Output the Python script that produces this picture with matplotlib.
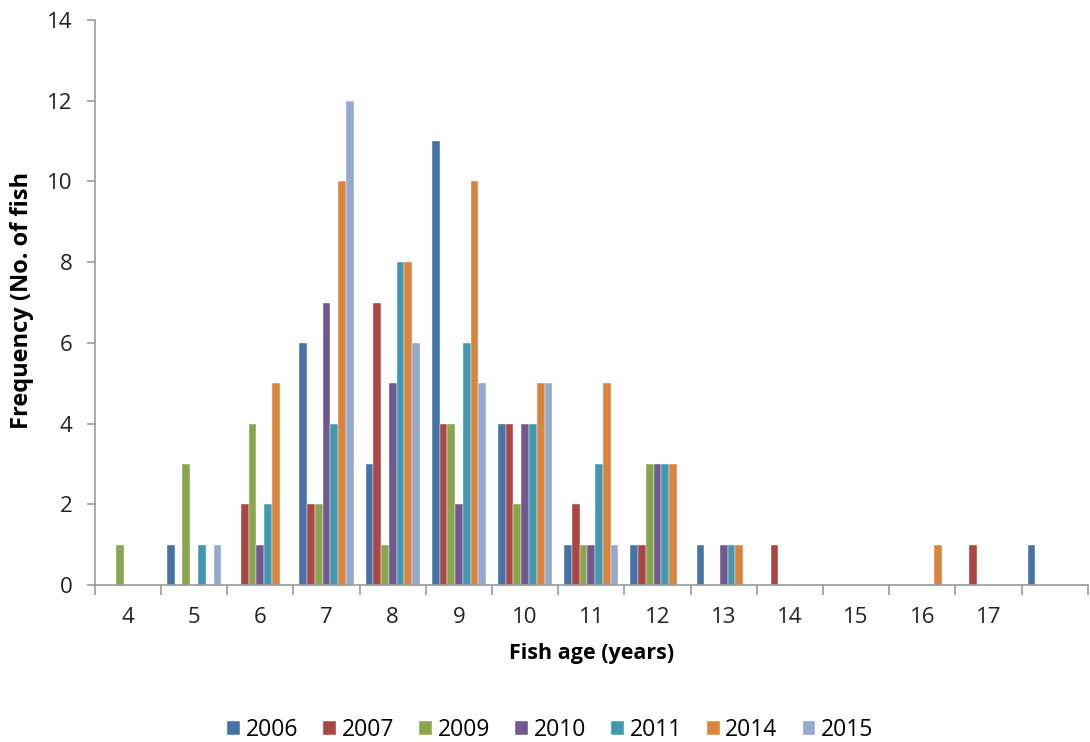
import matplotlib.pyplot as plt
import numpy as np

ages = ['4', '5', '6', '7', '8', '9', '10', '11', '12', '13', '14', '15', '16', '17', '']
years = ['2006', '2007', '2009', '2010', '2011', '2014', '2015']

f2006 = [0, 1, 0, 6, 3, 11, 4, 1, 1, 1, 0, 0, 0, 0, 1]
f2007 = [0, 0, 2, 2, 7, 4, 4, 2, 1, 0, 1, 0, 0, 1, 0]
f2009 = [1, 3, 4, 2, 1, 4, 2, 1, 3, 0, 0, 0, 0, 0, 0]
f2010 = [0, 0, 1, 7, 5, 2, 4, 1, 3, 1, 0, 0, 0, 0, 0]
f2011 = [0, 1, 2, 4, 8, 6, 4, 3, 3, 1, 0, 0, 0, 0, 0]
f2014 = [0, 0, 5, 10, 8, 10, 5, 5, 3, 1, 0, 0, 1, 0, 0]
f2015 = [0, 1, 0, 12, 6, 5, 5, 1, 0, 0, 0, 0, 0, 0, 0]

series = [f2006, f2007, f2009, f2010, f2011, f2014, f2015]
colors = ['#4572A7', '#AA4643', '#89A54E', '#71588F', '#4198AF', '#DB843D', '#93A9CF']

plt.rcParams['font.family'] = ['Open Sans', 'DejaVu Sans']

fig = plt.figure(figsize=(10.9, 7.42), dpi=100)
ax = fig.add_axes([0.087, 0.2116, 0.911, 0.7614])

x = np.arange(len(ages))
n = len(series)
w = 0.82 / n
for i, (vals, c, yr) in enumerate(zip(series, colors, years)):
    ax.bar(x - 0.41 + w * (i + 0.5), vals, width=w, color=c, label=yr,
           edgecolor='white', linewidth=0.3)

ax.set_xlim(-0.5, len(ages) - 0.5)
ax.set_ylim(0, 14)
ax.set_yticks(range(0, 15, 2))
ax.set_xticks(x)
ax.set_xticklabels(ages)
ax.set_xticks(np.arange(-0.5, len(ages), 1), minor=True)
ax.tick_params(axis='x', which='major', length=0, pad=16, labelsize=16, labelcolor='#222222')
ax.tick_params(axis='x', which='minor', length=7, color='#999999', width=1.2)
ax.tick_params(axis='y', length=6, color='#999999', width=1.2, labelsize=16,
               pad=10, labelcolor='#222222')

for s in ['top', 'right']:
    ax.spines[s].set_visible(False)
for s in ['left', 'bottom']:
    ax.spines[s].set_color('#999999')
    ax.spines[s].set_linewidth(1.2)

ax.set_xlabel('Fish age (years)', fontsize=15.5, fontweight='bold', labelpad=11)
fig.text(0.02, 0.595, 'Frequency (No. of fish', rotation=90, fontsize=17,
         fontweight='bold', ha='center', va='center')

fig.legend(loc='center', bbox_to_anchor=(0.505, 0.016), ncol=7,
           frameon=False, fontsize=16.5, handlelength=0.55, handleheight=0.55,
           handletextpad=0.25, columnspacing=1.1)

plt.savefig('out.png', dpi=100)
